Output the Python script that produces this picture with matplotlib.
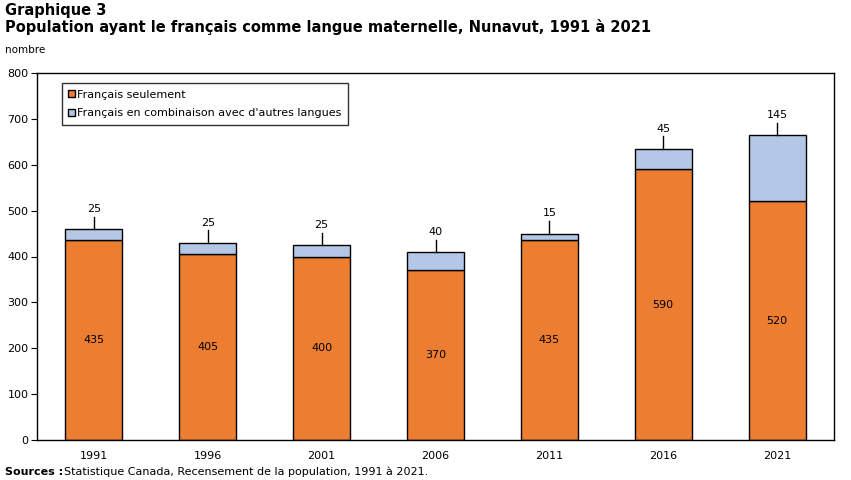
import matplotlib

matplotlib.use("Agg")
import matplotlib.pyplot as plt
from matplotlib.patches import Patch

years = ["1991", "1996", "2001", "2006", "2011", "2016", "2021"]
fr_only = [435, 405, 400, 370, 435, 590, 520]
fr_combo = [25, 25, 25, 40, 15, 45, 145]

c_only = "#ED7D31"
c_combo = "#B4C7E7"

plt.rcParams["font.family"] = ["DejaVu Sans"]

fig = plt.figure(figsize=(8.51, 4.8), dpi=100)
ax = fig.add_axes([37 / 851, 40 / 480, 797 / 851, 367 / 480])

x = range(len(years))
ax.bar(x, fr_only, width=0.5, color=c_only, edgecolor="black", linewidth=1)
ax.bar(x, fr_combo, width=0.5, bottom=fr_only, color=c_combo, edgecolor="black", linewidth=1)

for i, (a, b) in enumerate(zip(fr_only, fr_combo)):
    ax.text(i, a / 2, str(a), ha="center", va="center", fontsize=8)
    top = a + b
    ax.plot([i, i], [top, top + 27], color="black", lw=1)
    ax.text(i, top + 33, str(b), ha="center", va="bottom", fontsize=8)

ax.set_xlim(-0.5, 6.5)
ax.set_ylim(0, 800)
ax.set_yticks(range(0, 801, 100))
ax.set_xticks(list(x))
ax.set_xticklabels(years)
ax.tick_params(axis="x", length=0, labelsize=8, pad=8)
ax.tick_params(axis="y", length=4, labelsize=8, pad=2)
for s in ax.spines.values():
    s.set_linewidth(1)

handles = [
    Patch(facecolor=c_only, edgecolor="black", label="Français seulement"),
    Patch(facecolor=c_combo, edgecolor="black", label="Français en combinaison avec d'autres langues"),
]
leg = ax.legend(handles=handles, loc="upper left", bbox_to_anchor=(0.031, 0.973),
                fontsize=8, frameon=True, fancybox=False, edgecolor="black",
                handlelength=0.6, handleheight=0.6, handletextpad=0.2,
                borderpad=0.6, labelspacing=0.8, borderaxespad=0)
leg.get_frame().set_linewidth(1)

fig.text(5 / 851, 1 - 10 / 480, "Graphique 3", fontsize=10.5, fontweight="bold", va="center")
fig.text(5 / 851, 1 - 27 / 480,
         "Population ayant le français comme langue maternelle, Nunavut, 1991 à 2021",
         fontsize=10.5, fontweight="bold", va="center")
fig.text(5 / 851, 1 - 50 / 480, "nombre", fontsize=7.5, va="center")
fig.text(5 / 851, 1 - 472 / 480, "Sources :", fontsize=8, fontweight="bold", va="center")
fig.text(64 / 851, 1 - 472 / 480,
         "Statistique Canada, Recensement de la population, 1991 à 2021.",
         fontsize=8, va="center")

fig.savefig("out.png", dpi=100)
